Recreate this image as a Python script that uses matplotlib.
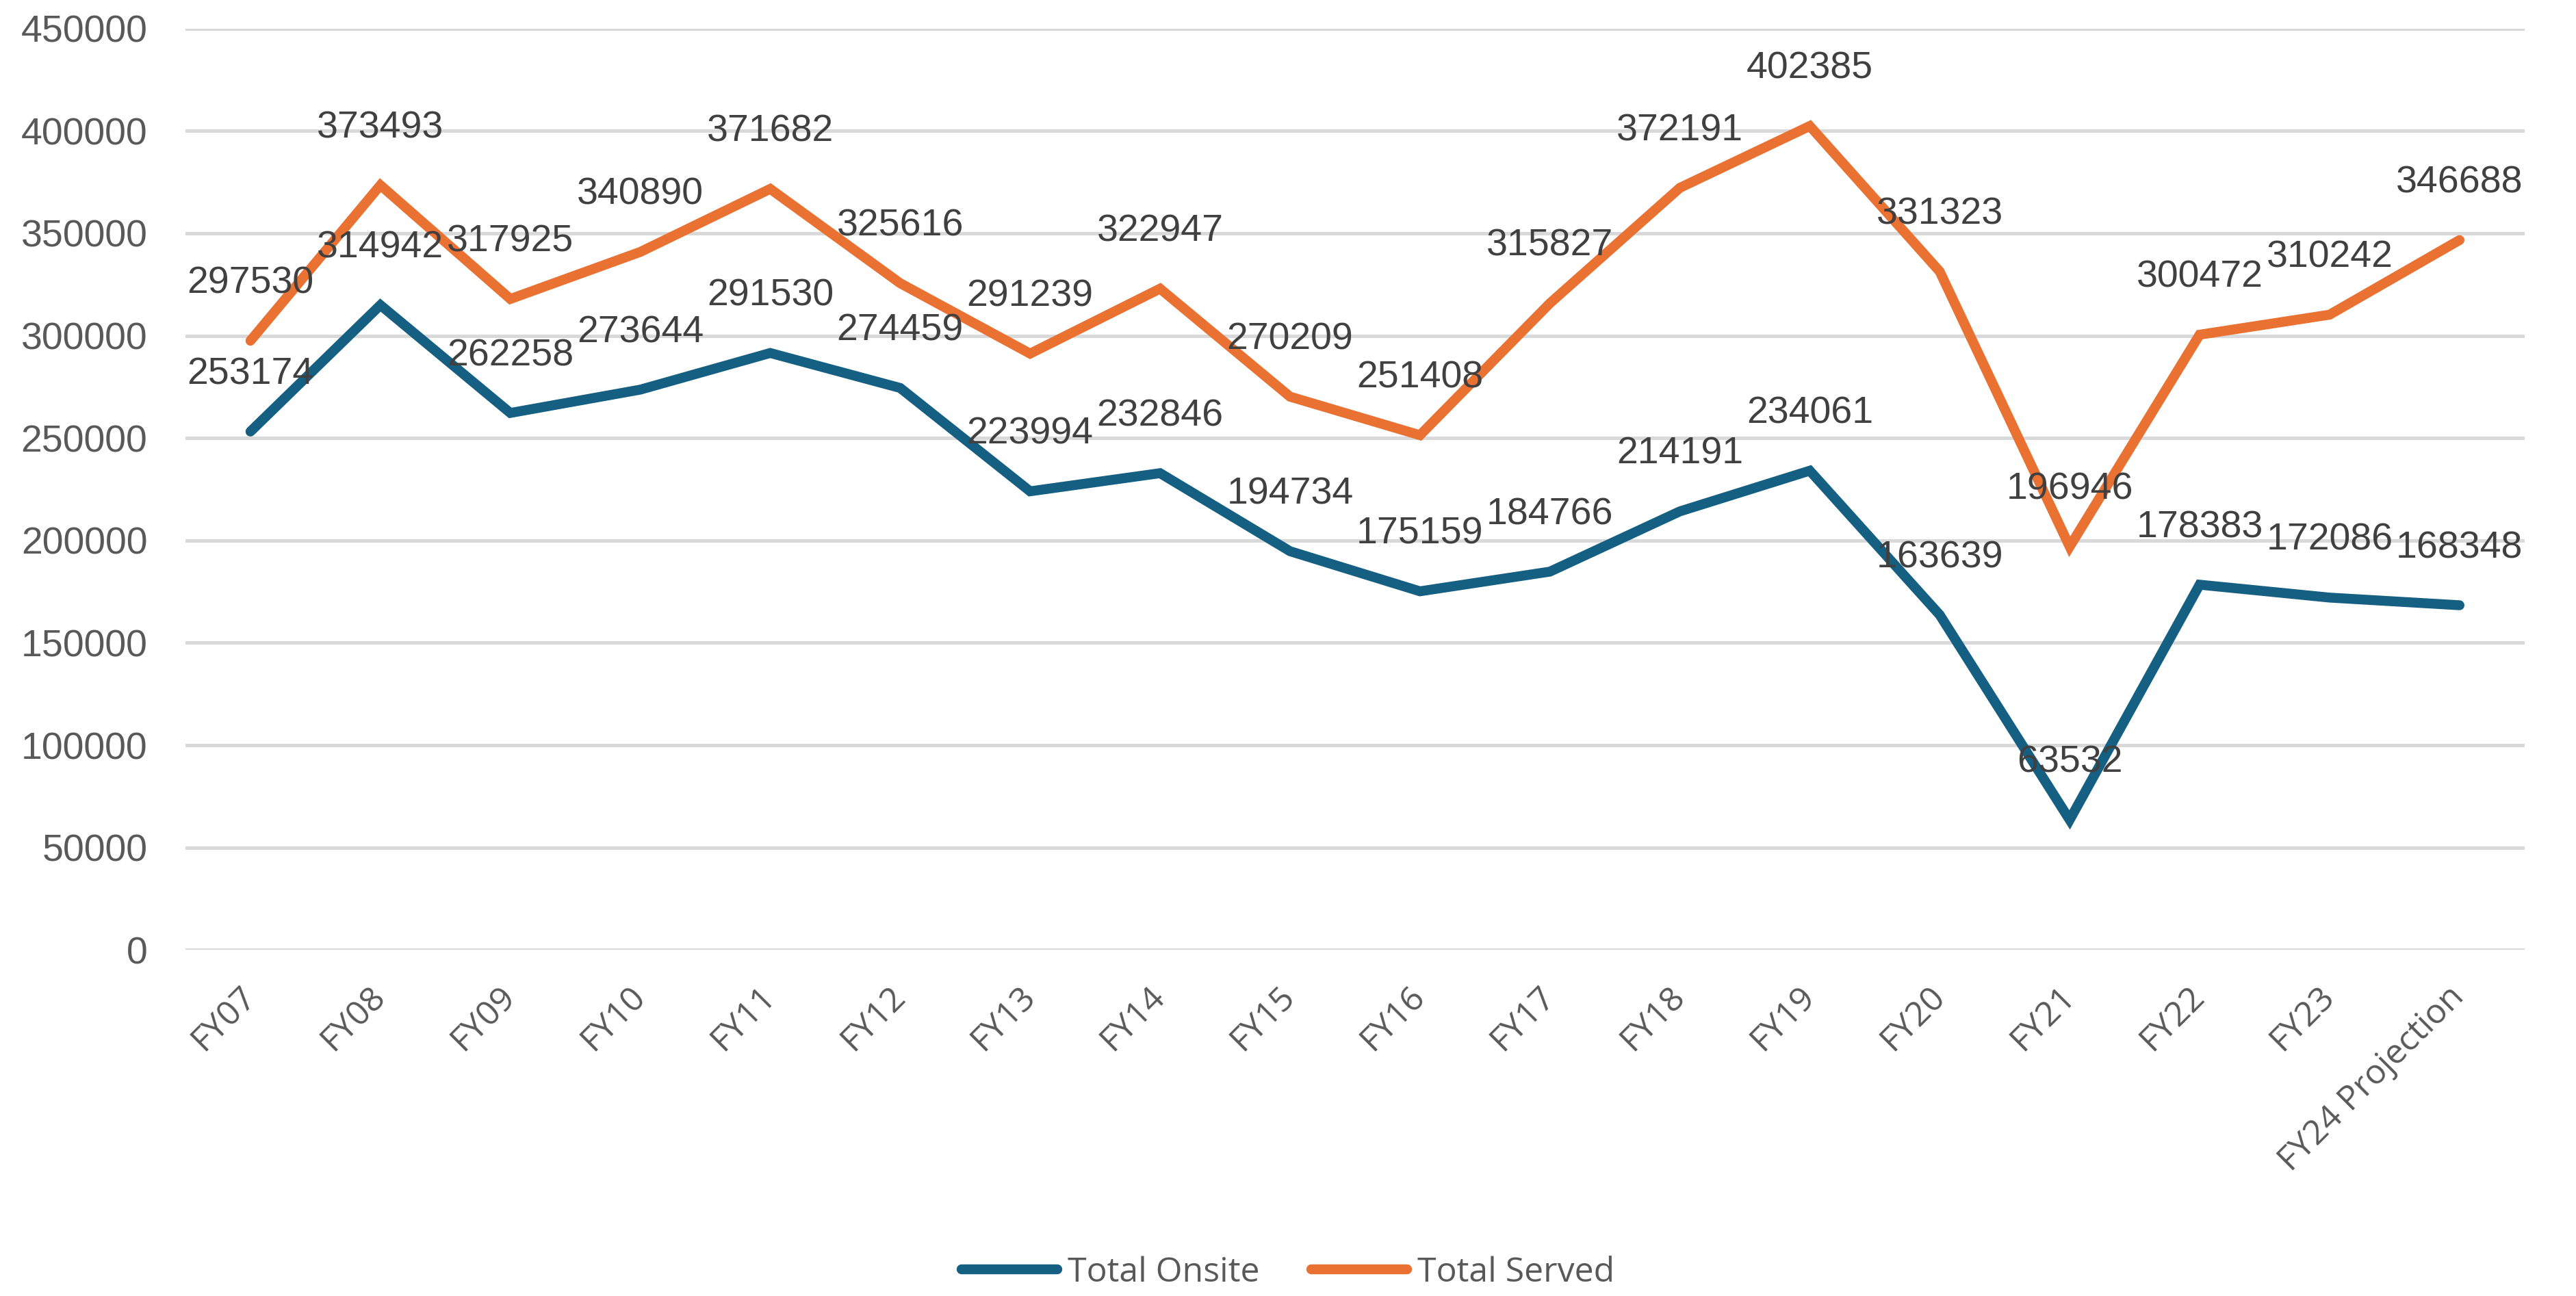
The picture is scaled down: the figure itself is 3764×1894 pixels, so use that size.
import matplotlib
matplotlib.use("Agg")
import matplotlib.pyplot as plt

categories = ["FY07", "FY08", "FY09", "FY10", "FY11", "FY12", "FY13", "FY14", "FY15",
              "FY16", "FY17", "FY18", "FY19", "FY20", "FY21", "FY22", "FY23", "FY24 Projection"]
total_onsite = [253174, 314942, 262258, 273644, 291530, 274459, 223994, 232846, 194734,
                175159, 184766, 214191, 234061, 163639, 63532, 178383, 172086, 168348]
total_served = [297530, 373493, 317925, 340890, 371682, 325616, 291239, 322947, 270209,
                251408, 315827, 372191, 402385, 331323, 196946, 300472, 310242, 346688]
y_ticks = [0, 50000, 100000, 150000, 200000, 250000, 300000, 350000, 400000, 450000]

BLUE = "#156082"
ORANGE = "#E97132"
NUM_FONT = ["Liberation Sans", "DejaVu Sans"]
CAT_FONT = ["Open Sans", "DejaVu Sans"]

fig = plt.figure(figsize=(18.82, 9.47), dpi=200)
ax = fig.add_axes([0.072, 0.267, 0.908, 0.711])

x = list(range(len(categories)))
l1, = ax.plot(x, total_onsite, color=BLUE, lw=5.2, solid_capstyle="round",
              solid_joinstyle="miter", label="Total Onsite", zorder=3)
l2, = ax.plot(x, total_served, color=ORANGE, lw=5.2, solid_capstyle="round",
              solid_joinstyle="miter", label="Total Served", zorder=3)

for series in (total_onsite, total_served):
    for xi, v in zip(x, series):
        ax.annotate(str(v), (xi, v), xytext=(0, 30), textcoords="offset points",
                    ha="center", va="center", fontsize=20, color="#404040",
                    family=NUM_FONT, zorder=4)

ax.set_xlim(-0.5, len(categories) - 0.5)
ax.set_ylim(0, 450000)
ax.set_yticks(y_ticks)
ax.set_yticklabels([str(t) for t in y_ticks], family=NUM_FONT, fontsize=20, color="#595959")
ax.set_xticks(x)
ax.set_xticklabels(categories, rotation=45, ha="right", va="center",
                   rotation_mode="anchor", family=CAT_FONT, fontsize=18, color="#595959")
ax.tick_params(axis="both", length=0)
ax.tick_params(axis="y", pad=20)
ax.tick_params(axis="x", pad=22)
ax.grid(axis="y", color="#D9D9D9", lw=1.8, zorder=0)
ax.set_axisbelow(True)
for s in ax.spines.values():
    s.set_visible(False)

fig.legend(handles=[l1, l2], loc="center", bbox_to_anchor=(0.5, 0.018), ncol=2,
           frameon=False, prop={"family": CAT_FONT, "size": 18}, handlelength=2.8,
           columnspacing=1.5, handletextpad=0.3, labelcolor="#595959")

fig.savefig("out.png", dpi=200, facecolor="white")
